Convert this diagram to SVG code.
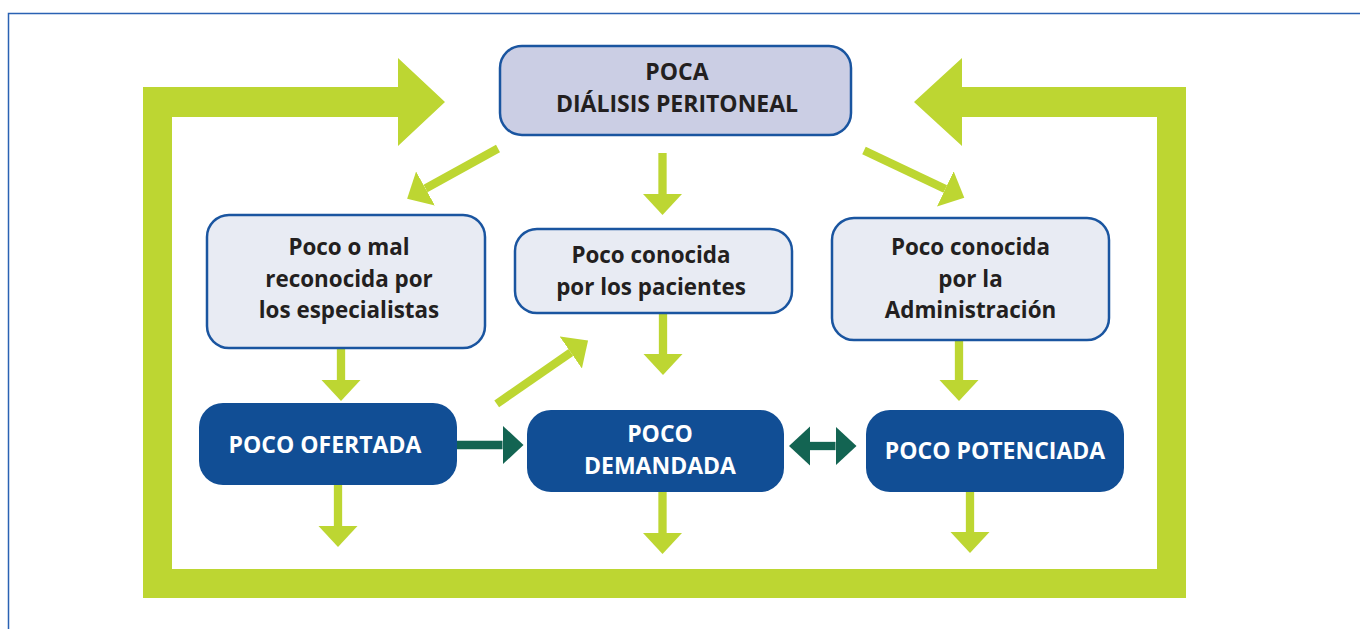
<svg xmlns="http://www.w3.org/2000/svg" width="1360" height="629" viewBox="0 0 1360 629">
  <style>
    .lbox { fill: #e8ebf3; stroke: #1a55a0; stroke-width: 2.5; }
    .tbox { fill: #cbcee4; stroke: #1a55a0; stroke-width: 2.5; }
    .dbox { fill: #114e95; }
    .t { font-family: "Open Sans", "Liberation Sans", sans-serif; font-weight: bold; font-size: 22.4px; text-anchor: middle; }
    .up { font-size: 23px; }
    .dk { fill: #231f20; }
    .wh { fill: #ffffff; }
    .lg { stroke: #bdd632; stroke-width: 8.3; fill: none; }
    .dg { stroke: #136452; stroke-width: 8.3; fill: none; }
  </style>
  <defs>
    <marker id="hl" viewBox="0 -20 22 40" markerWidth="22" markerHeight="40" refX="0" refY="0" orient="auto" markerUnits="userSpaceOnUse">
      <path d="M0,-19.5 L21,0 L0,19.5 Z" fill="#bdd632"/>
    </marker>
    <marker id="hd" viewBox="0 -20 22 40" markerWidth="22" markerHeight="40" refX="0" refY="0" orient="auto-start-reverse" markerUnits="userSpaceOnUse">
      <path d="M0,-19.5 L21,0 L0,19.5 Z" fill="#136452"/>
    </marker>
  </defs>

  <rect x="0" y="0" width="1360" height="629" fill="#ffffff"/>
  <path d="M8.5,629 V13.5 H1360" fill="none" stroke="#2a62b3" stroke-width="1.5"/>

  <g id="feedback-loop">
    <path d="M143,87 H398 V58 L445,102 L398,146 V117 H172 V569 H1157 V117 H962 V146 L914,102 L962,58 V87 H1186 V598 H143 Z" fill="#bdd632"/>
  </g>

  <g id="connectors">
    <line class="lg" x1="498" y1="148.5" x2="425.5" y2="188.5" marker-end="url(#hl)"/>
    <line class="lg" x1="662.5" y1="153" x2="662.5" y2="194" marker-end="url(#hl)"/>
    <line class="lg" x1="864" y1="150.5" x2="945.3" y2="188.9" marker-end="url(#hl)"/>
    <line class="lg" x1="341" y1="349" x2="341" y2="380" marker-end="url(#hl)"/>
    <line class="lg" x1="338" y1="485" x2="338" y2="526" marker-end="url(#hl)"/>
    <line class="lg" x1="496.7" y1="403.8" x2="570.8" y2="352.5" marker-end="url(#hl)"/>
    <line class="lg" x1="663" y1="313" x2="663" y2="354" marker-end="url(#hl)"/>
    <line class="lg" x1="662.5" y1="492" x2="662.5" y2="533" marker-end="url(#hl)"/>
    <line class="lg" x1="959" y1="340" x2="959" y2="380" marker-end="url(#hl)"/>
    <line class="lg" x1="970" y1="492" x2="970" y2="532" marker-end="url(#hl)"/>
    <line class="dg" x1="457" y1="445" x2="502.5" y2="445" marker-end="url(#hd)"/>
    <line class="dg" x1="810" y1="446" x2="835.5" y2="446" marker-start="url(#hd)" marker-end="url(#hd)"/>
  </g>

  <g id="poca-dialisis">
    <rect class="tbox" x="500" y="46" width="351" height="89" rx="22"/>
    <text class="t up dk" x="677" y="80">POCA</text>
    <text class="t up dk" x="677" y="112">DIÁLISIS PERITONEAL</text>
  </g>

  <g id="especialistas">
    <rect class="lbox" x="207" y="215" width="278" height="133" rx="22"/>
    <text class="t dk" x="349" y="255">Poco o mal</text>
    <text class="t dk" x="349" y="287">reconocida por</text>
    <text class="t dk" x="349" y="318">los especialistas</text>
  </g>

  <g id="pacientes">
    <rect class="lbox" x="515" y="229" width="277" height="84" rx="22"/>
    <text class="t dk" x="651" y="263">Poco conocida</text>
    <text class="t dk" x="651" y="295">por los pacientes</text>
  </g>

  <g id="administracion">
    <rect class="lbox" x="832" y="218" width="277" height="122" rx="22"/>
    <text class="t dk" x="970.5" y="255">Poco conocida</text>
    <text class="t dk" x="970.5" y="287">por la</text>
    <text class="t dk" x="970.5" y="318">Administración</text>
  </g>

  <g id="ofertada">
    <rect class="dbox" x="199" y="403" width="258" height="82" rx="24"/>
    <text class="t up wh" x="325" y="453">POCO OFERTADA</text>
  </g>

  <g id="demandada">
    <rect class="dbox" x="527" y="410" width="257" height="82" rx="24"/>
    <text class="t up wh" x="660" y="442">POCO</text>
    <text class="t up wh" x="660" y="474">DEMANDADA</text>
  </g>

  <g id="potenciada">
    <rect class="dbox" x="866" y="410" width="258" height="82" rx="24"/>
    <text class="t up wh" x="995" y="459">POCO POTENCIADA</text>
  </g>
</svg>
